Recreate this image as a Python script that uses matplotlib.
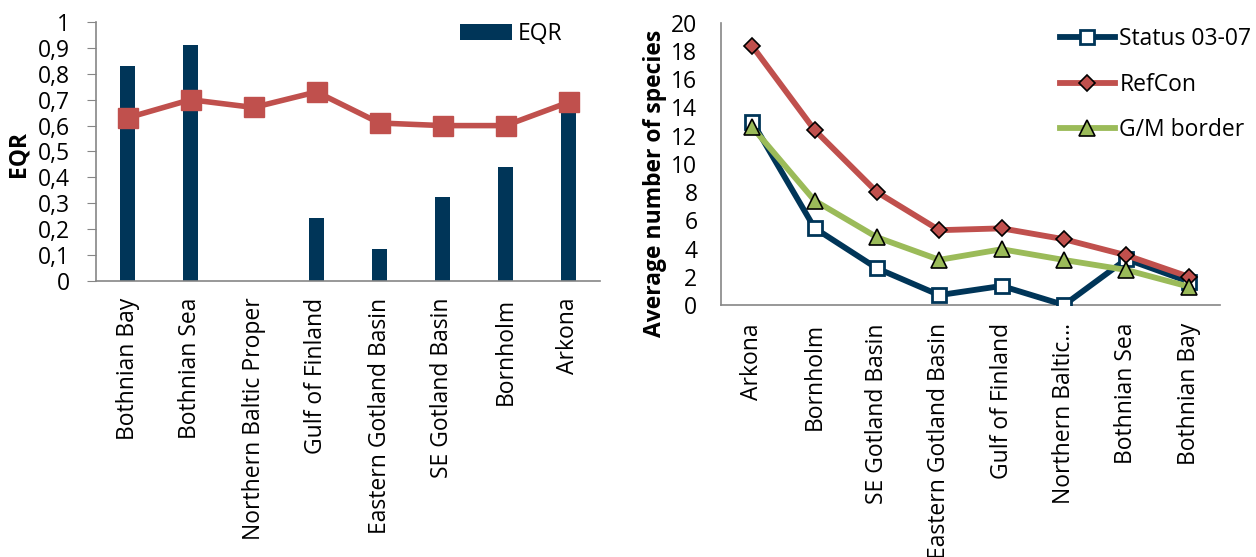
import matplotlib
matplotlib.use("Agg")
from matplotlib import pyplot as plt
from matplotlib.ticker import FuncFormatter

plt.rcParams['font.family'] = ['Open Sans', 'DejaVu Sans']

# left panel: EQR per basin
basins_eqr = ["Bothnian Bay", "Bothnian Sea", "Northern Baltic Proper", "Gulf of Finland",
              "Eastern Gotland Basin", "SE Gotland Basin", "Bornholm", "Arkona"]
eqr = [0.83, 0.91, 0.0, 0.242, 0.122, 0.323, 0.44, 0.68]
eqr_border = [0.63, 0.70, 0.67, 0.73, 0.61, 0.60, 0.60, 0.69]

# right panel: average species numbers
basins_sp = ["Arkona", "Bornholm", "SE Gotland Basin", "Eastern Gotland Basin",
             "Gulf of Finland", "Northern Baltic...", "Bothnian Sea", "Bothnian Bay"]
status = [13.0, 5.45, 2.6, 0.7, 1.35, 0.0, 3.25, 1.65]
refcon = [18.35, 12.4, 8.0, 5.3, 5.43, 4.66, 3.52, 2.0]
gm_border = [12.6, 7.4, 4.8, 3.2, 3.95, 3.19, 2.48, 1.3]

NAVY = "#003558"
RED = "#C0504D"
GREEN = "#9BBB59"
AXC = "#868686"
FS = 16.5

fig = plt.figure(figsize=(12.56, 5.57), dpi=100)

ax1 = fig.add_axes([96 / 1256, 1 - 281 / 557, 504 / 1256, 259 / 557])
x = range(len(basins_eqr))
ax1.bar(x, eqr, width=0.24, color=NAVY, label="EQR", zorder=2)
ax1.plot(x, eqr_border, color=RED, lw=4, marker="s", ms=14, zorder=3)
ax1.set_xlim(-0.5, 7.5)
ax1.set_ylim(0, 1)
ax1.set_yticks([i / 10 for i in range(11)])
ax1.yaxis.set_major_formatter(FuncFormatter(lambda v, p: ("%g" % round(v, 1)).replace(".", ",")))
ax1.set_xticks(list(x))
ax1.set_xticklabels(basins_eqr, rotation=90, fontsize=FS)
ax1.tick_params(axis="x", length=0, pad=12)
ax1.tick_params(axis="y", labelsize=FS, length=6.5, color=AXC, pad=12)
ax1.set_ylabel("EQR", fontsize=FS, fontweight="bold")
ax1.yaxis.set_label_coords(-66 / 504, 0.49)
for s in ["top", "right"]:
    ax1.spines[s].set_visible(False)
for s in ["left", "bottom"]:
    ax1.spines[s].set_color(AXC)
    ax1.spines[s].set_linewidth(1.2)
ax1.legend(loc="upper left", bbox_to_anchor=(0.722, 1.0), frameon=False, fontsize=FS,
           handlelength=2.27, handleheight=0.65, handletextpad=0.25,
           borderpad=0, borderaxespad=0)

ax2 = fig.add_axes([721 / 1256, 1 - 305 / 557, 499 / 1256, 282.3 / 557])
x2 = range(len(basins_sp))
ax2.plot(x2, status, color=NAVY, lw=4.2, marker="s", ms=10, mfc="white", mec=NAVY, mew=2,
         label="Status 03-07", zorder=3)
ax2.plot(x2, refcon, color=RED, lw=4.2, marker="D", ms=8.5, mfc=RED, mec="black", mew=1.2,
         label="RefCon", zorder=4)
ax2.plot(x2, gm_border, color=GREEN, lw=4.2, marker="^", ms=11, mfc=GREEN, mec="black", mew=1.2,
         label="G/M border", zorder=5)
ax2.set_xlim(-0.5, 7.5)
ax2.set_ylim(0, 20)
ax2.set_yticks(range(0, 21, 2))
ax2.set_xticks(list(x2))
ax2.set_xticklabels(basins_sp, rotation=90, fontsize=FS)
ax2.tick_params(axis="x", length=0, pad=13)
ax2.tick_params(axis="y", labelsize=FS, length=0, pad=17)
ax2.set_ylabel("Average number of species", fontsize=FS, fontweight="bold")
ax2.yaxis.set_label_coords(-54 / 499, 0.43)
for s in ["top", "right"]:
    ax2.spines[s].set_visible(False)
for s in ["left", "bottom"]:
    ax2.spines[s].set_color(AXC)
    ax2.spines[s].set_linewidth(1.2)
ax2.legend(loc="upper left", bbox_to_anchor=(0.679, 0.985), frameon=False, fontsize=FS,
           handlelength=2.4, handletextpad=0.2, labelspacing=0.95,
           borderpad=0, borderaxespad=0)

fig.savefig("out.png", dpi=100)
